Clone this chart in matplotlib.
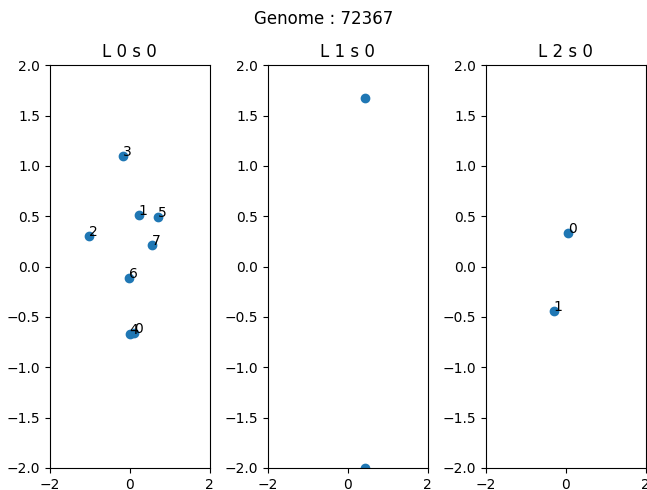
import matplotlib as mpl
mpl.use('Agg')
import matplotlib.pyplot as plt

genome = 72367

# layer 0
l0_x = [0.10, 0.22, -1.02, -0.18, 0.00, 0.70, -0.03, 0.55]
l0_y = [-0.66, 0.51, 0.30, 1.10, -0.67, 0.49, -0.11, 0.21]
# layer 1 (no labels)
l1_x = [0.43, 0.43]
l1_y = [1.67, -2.00]
# layer 2
l2_x = [0.05, -0.30]
l2_y = [0.33, -0.44]

layers = [(l0_x, l0_y, True), (l1_x, l1_y, False), (l2_x, l2_y, True)]

fig, axes = plt.subplots(1, 3, figsize=(6.47, 4.9), dpi=100)
fig.suptitle('Genome : %d' % genome)

for i, (ax, (xs, ys, labels)) in enumerate(zip(axes, layers)):
    ax.scatter(xs, ys)
    if labels:
        for n, (x, y) in enumerate(zip(xs, ys)):
            ax.annotate(str(n), (x, y))
    ax.set_title('L %d s 0' % i)
    ax.set_xlim(-2, 2)
    ax.set_ylim(-2, 2)

fig.subplots_adjust(left=0.077, right=0.998, bottom=0.045, top=0.867,
                    wspace=0.3625)
fig.savefig('out.png')
